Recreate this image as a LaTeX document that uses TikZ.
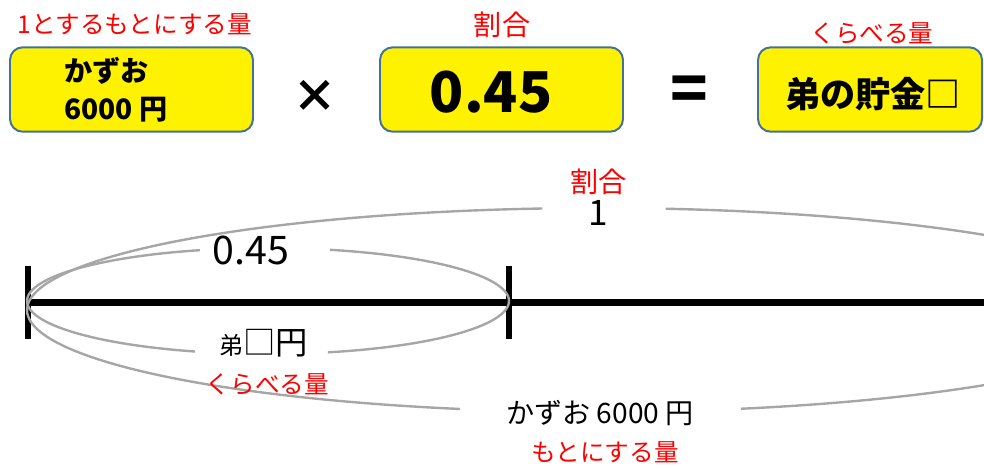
\documentclass[tikz,border=0pt]{standalone}
\usepackage{fontspec}
\setmainfont{Noto Sans CJK JP}
\usepackage{xcolor}
\usetikzlibrary{positioning,calc}
\definecolor{boxline}{HTML}{41719C}
\definecolor{ringgray}{HTML}{A6A6A6}
\tikzset{
  qbox/.style={draw=boxline, line width=1.4pt, fill=yellow, rounded corners=9pt, minimum height=60pt, inner sep=0pt},
  redlbl/.style={text=red, inner sep=0pt, font=\fontsize{17.5}{20}\selectfont},
  redkanji/.style={text=red, inner sep=0pt, font=\fontsize{20}{22}\selectfont},
  boxtxt/.style={inner sep=0pt, font=\bfseries\fontsize{20}{24}\selectfont},
  optxt/.style={inner sep=0pt, font=\bfseries\fontsize{32}{34}\selectfont},
  linetxt/.style={inner sep=0pt, font=\fontsize{20}{22}\selectfont},
  ring/.style={draw=ringgray, line width=1.7pt},
  numline/.style={line width=4.3pt},
  tickmark/.style={line width=4.3pt},
}
\begin{document}
\begin{tikzpicture}[x=0.025cm, y=-0.025cm]
  \useasboundingbox (0,0) rectangle (984,468);
  \clip (0,0) rectangle (984,468);

  % expression on top
  \node[qbox, minimum width=172.8pt] (kazuobox) at (131.5,89.5) {};
  \node[qbox, minimum width=172.8pt] (ratebox) at (501.5,89.5) {};
  \node[qbox, minimum width=159.3pt] (savebox) at (870,89.5) {};
  \node[redlbl] (baselbl) at (135,24) {1とするもとにする量};
  \node[redkanji] (ratelbl) at (502,25) {割合};
  \node[redlbl] (comparelbl) at (872,33) {くらべる量};
  \node[boxtxt, anchor=west] (kazuo) at (64,70.5) {かずお};
  \node[boxtxt, anchor=west] (kazuoyen) at (64,110) {6000 円};
  \node[inner sep=0pt, font=\bfseries\fontsize{40}{44}\selectfont] (rate) at (491,92) {0.45};
  \node[inner sep=0pt, font=\bfseries\fontsize{25}{28}\selectfont] (save) at (873,94) {弟の貯金□};
  \node[optxt] (times) at (315,96) {×};
  \node[inner sep=0pt, font=\bfseries\fontsize{44}{46}\selectfont] (equals) at (689,93.5) {=};

  % number line
  \coordinate (zero) at (28,302.5);
  \coordinate (half) at (509,302.5);
  \coordinate (lineend) at (984,302.5);
  \draw[ringgray, line width=0.7pt] ([yshift=2.2pt]zero) -- ([yshift=2.2pt]lineend);
  \draw[numline] (zero) -- (lineend);
  \draw[tickmark] ([yshift=26pt]zero) -- ([yshift=-26pt]zero);
  \draw[tickmark] ([yshift=26pt]half) -- ([yshift=-26pt]half);

  % small ring: 0.45
  \draw[ring] plot[domain=106.4:252.4, samples=60, variable=\t] ({268+241*cos(\t)}, {301-53*sin(\t)});
  \draw[ring] plot[domain=284.4:435.1, samples=60, variable=\t] ({268+241*cos(\t)}, {301-53*sin(\t)});
  % big ring: 1
  \draw[ring] plot[domain=95.6:256, samples=90, variable=\t] ({598+571*cos(\t)}, {310-102*sin(\t)});
  \draw[ring] plot[domain=284.5:443.2, samples=90, variable=\t] ({598+571*cos(\t)}, {310-102*sin(\t)});

  \node[inner sep=0pt, font=\fontsize{28}{30}\selectfont] (partrate) at (251,250) {0.45};
  \node[inner sep=0pt] (partyen) at (264,343) {{\fontsize{17}{20}\selectfont 弟}{\fontsize{23}{26}\selectfont □円}};
  \node[redlbl] (partlbl) at (267.5,384) {くらべる量};
  \node[redkanji] (wholelbl) at (598.5,182) {割合};
  \node[inner sep=0pt, font=\fontsize{25}{28}\selectfont] (wholerate) at (598,213) {1};
  \node[linetxt] (wholeyen) at (600,413) {かずお 6000 円};
  \node[redlbl] (wholebase) at (605,452) {もとにする量};
\end{tikzpicture}
\end{document}
